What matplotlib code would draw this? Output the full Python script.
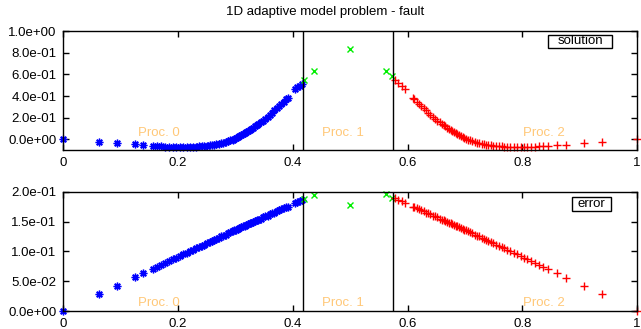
import matplotlib
matplotlib.use("Agg")
import matplotlib.pyplot as plt
from matplotlib.patches import Rectangle
from matplotlib.ticker import FormatStrFormatter

plt.rcParams['font.family'] = ['Liberation Sans', 'DejaVu Sans']
FS = 9.5

title = "1D adaptive model problem - fault"
proc_labels = ["Proc. 0", "Proc. 1", "Proc. 2"]
proc_boundaries = [0.4175, 0.5745]

# Proc. 0 (blue)
x0 = [0.0, 0.0617, 0.093, 0.1245, 0.1396, 0.156, 0.164, 0.171, 0.178, 0.185, 0.191, 0.197,
      0.203, 0.209, 0.215, 0.221, 0.226, 0.231, 0.236, 0.241, 0.246, 0.251, 0.255, 0.259,
      0.263, 0.267, 0.271, 0.275, 0.279, 0.283, 0.287, 0.291, 0.295, 0.298, 0.301, 0.304,
      0.307, 0.310, 0.313, 0.316, 0.319, 0.322, 0.325, 0.328, 0.331, 0.334, 0.337, 0.340,
      0.344, 0.348, 0.352, 0.356, 0.360, 0.364, 0.368, 0.372, 0.376, 0.380, 0.384, 0.388,
      0.391, 0.404, 0.408, 0.412, 0.416]
sol0 = [0.0, -0.022, -0.037, -0.047, -0.053, -0.058, -0.062, -0.065, -0.067, -0.068, -0.069, -0.070,
        -0.070, -0.070, -0.070, -0.069, -0.068, -0.067, -0.066, -0.064, -0.062, -0.060, -0.057, -0.054,
        -0.051, -0.047, -0.043, -0.038, -0.032, -0.026, -0.019, -0.011, -0.002, 0.005, 0.013, 0.021,
        0.030, 0.038, 0.048, 0.057, 0.067, 0.077, 0.087, 0.098, 0.109, 0.120, 0.131, 0.142,
        0.158, 0.174, 0.191, 0.209, 0.228, 0.247, 0.267, 0.287, 0.307, 0.328, 0.349, 0.370,
        0.385, 0.462, 0.480, 0.498, 0.516]
err0 = [0.0, 0.028, 0.042, 0.0565, 0.063, 0.0704, 0.074, 0.077, 0.081, 0.084, 0.087, 0.089,
        0.092, 0.095, 0.097, 0.100, 0.102, 0.105, 0.107, 0.109, 0.111, 0.114, 0.116, 0.117,
        0.119, 0.121, 0.123, 0.125, 0.126, 0.128, 0.130, 0.132, 0.134, 0.135, 0.136, 0.138,
        0.139, 0.140, 0.142, 0.143, 0.144, 0.146, 0.147, 0.148, 0.149, 0.151, 0.152, 0.153,
        0.155, 0.157, 0.159, 0.160, 0.162, 0.164, 0.165, 0.167, 0.169, 0.171, 0.172, 0.174,
        0.175, 0.181, 0.183, 0.185, 0.186]

# Proc. 1 (green)
x1 = [0.4198, 0.4378, 0.5, 0.5628, 0.5735]
sol1 = [0.549, 0.635, 0.833, 0.635, 0.586]
err1 = [0.188, 0.195, 0.177, 0.196, 0.190]

# Proc. 2 (red)
x2 = [0.578, 0.584, 0.590, 0.596, 0.609, 0.612, 0.616, 0.620, 0.624, 0.628, 0.632, 0.636,
      0.640, 0.644, 0.648, 0.652, 0.656, 0.660, 0.663, 0.666, 0.669, 0.672, 0.675, 0.678,
      0.681, 0.684, 0.687, 0.690, 0.693, 0.696, 0.699, 0.702, 0.705, 0.709, 0.713, 0.717,
      0.721, 0.725, 0.729, 0.733, 0.737, 0.741, 0.745, 0.749, 0.754, 0.759, 0.764, 0.769,
      0.774, 0.779, 0.785, 0.791, 0.797, 0.803, 0.809, 0.815, 0.822, 0.829, 0.836, 0.844,
      0.8604, 0.8755, 0.907, 0.9383, 1.0]
sol2 = [0.545, 0.520, 0.490, 0.465, 0.385, 0.370, 0.349, 0.328, 0.307, 0.287, 0.267, 0.247,
        0.228, 0.209, 0.191, 0.174, 0.158, 0.142, 0.131, 0.120, 0.109, 0.098, 0.087, 0.077,
        0.067, 0.057, 0.048, 0.038, 0.030, 0.021, 0.013, 0.005, -0.002, -0.011, -0.019, -0.026,
        -0.032, -0.038, -0.043, -0.047, -0.051, -0.054, -0.057, -0.060, -0.062, -0.064, -0.066, -0.067,
        -0.068, -0.069, -0.070, -0.070, -0.070, -0.070, -0.069, -0.068, -0.067, -0.065, -0.063, -0.060,
        -0.057, -0.053, -0.037, -0.024, 0.0]
err2 = [0.189, 0.186, 0.184, 0.181, 0.175, 0.174, 0.172, 0.171, 0.169, 0.167, 0.165, 0.164,
        0.162, 0.160, 0.159, 0.157, 0.155, 0.153, 0.152, 0.151, 0.149, 0.148, 0.147, 0.146,
        0.144, 0.143, 0.142, 0.140, 0.139, 0.138, 0.136, 0.135, 0.134, 0.132, 0.130, 0.128,
        0.126, 0.125, 0.123, 0.121, 0.119, 0.117, 0.116, 0.114, 0.111, 0.109, 0.107, 0.105,
        0.102, 0.100, 0.097, 0.095, 0.092, 0.089, 0.087, 0.084, 0.081, 0.077, 0.074, 0.071,
        0.063, 0.056, 0.042, 0.028, 0.0]

W, H = 641, 329
fig = plt.figure(figsize=(W / 100, H / 100), dpi=100)

def frac_rect(l, t, r, b):
    return [l / W, 1 - b / H, (r - l) / W, (b - t) / H]

ax1 = fig.add_axes(frac_rect(63.3, 31.3, 637, 149.7))
ax2 = fig.add_axes(frac_rect(63.3, 191.7, 637, 311))

star = (8, 2, 0)
for ax, s0, s1, s2, ylim, ytk, fmt, label_y in [
    (ax1, sol0, sol1, sol2, (-0.0963, 1.0), [0.0, 0.2, 0.4, 0.6, 0.8, 1.0], '%.1e', 0.055),
    (ax2, err0, err1, err2, (0.0, 0.2), [0.0, 0.05, 0.10, 0.15, 0.20], '%.1e', 0.014),
]:
    ax.plot(x0, s0, linestyle='none', marker=star, ms=5.5, mew=1.0, color='#0000ff', clip_on=False)
    ax.plot(x1, s1, linestyle='none', marker='x', ms=5, mew=1.0, color='#00ee00', clip_on=False)
    ax.plot(x2, s2, linestyle='none', marker='+', ms=6, mew=1.0, color='#ff0000', clip_on=False)
    for xb in proc_boundaries:
        ax.axvline(xb, color='black', lw=1.0, zorder=3)
    ax.set_xlim(0, 1)
    ax.set_ylim(*ylim)
    ax.set_xticks([0, 0.2, 0.4, 0.6, 0.8, 1.0])
    ax.set_xticklabels(['0', '0.2', '0.4', '0.6', '0.8', '1'])
    ax.set_yticks(ytk)
    ax.yaxis.set_major_formatter(FormatStrFormatter(fmt))
    ax.tick_params(direction='in', top=True, right=True, length=4, width=1,
                   labelsize=FS, pad=5)
    for sp in ax.spines.values():
        sp.set_linewidth(1.0)
    for lx, lab in zip([0.131, 0.4506, 0.802], proc_labels):
        ax.text(lx, label_y, lab, color='#ffc878', fontsize=FS, ha='left', va='center')

fig.text(325 / W, 1 - 12 / H, title, fontsize=FS, ha='center', va='center')

# key boxes
for (l, t, r, b), txt in [((548.3, 35, 611.7, 47.7), 'solution'), ((571.7, 197.3, 611, 210.7), 'error')]:
    fig.patches.append(Rectangle((l / W, 1 - b / H), (r - l) / W, (b - t) / H,
                                 transform=fig.transFigure, fill=False, ec='black', lw=1.0))
    fig.text((l + r) / 2 / W, 1 - (t + b) / 2 / H, txt, fontsize=FS, ha='center', va='center')

fig.savefig('out.png', dpi=100)
